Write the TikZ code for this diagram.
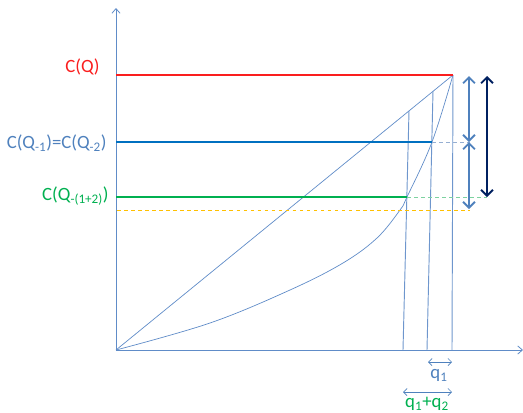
\documentclass[tikz,border=0pt]{standalone}
\usepackage{fontspec}
\setmainfont{Carlito}
\usetikzlibrary{arrows.meta}

\definecolor{axisblue}{RGB}{96,140,200}
\definecolor{labelblue}{RGB}{79,129,189}
\definecolor{lineblue}{RGB}{0,112,192}
\definecolor{costred}{RGB}{250,30,30}
\definecolor{costgreen}{RGB}{0,176,80}
\definecolor{navy}{RGB}{0,32,96}
\definecolor{gold}{RGB}{255,192,0}
\definecolor{mint}{RGB}{125,210,160}
\definecolor{paleblue}{RGB}{150,175,210}
\definecolor{stemblue}{RGB}{110,150,205}

\tikzset{
  axis/.style={draw=axisblue, line width=0.7pt, -{Straight Barb[length=4pt,width=7pt]}},
  costline/.style={line width=1.6pt},
  thinline/.style={draw=axisblue, line width=0.6pt},
  stemline/.style={draw=stemblue, line width=0.8pt},
  guide/.style={dashed, line width=0.8pt},
  span/.style={line width=1.6pt, {Straight Barb[length=5pt,width=10pt]}-{Straight Barb[length=5pt,width=10pt]}},
  qspan/.style={draw=labelblue, line width=0.6pt, {Straight Barb[length=3pt,width=6pt]}-{Straight Barb[length=3pt,width=6pt]}},
  lbl/.style={font=\fontsize{16}{18}\selectfont, inner sep=1pt}
}

\begin{document}
\begin{tikzpicture}[x=0.03cm, y=-0.03cm]
        \useasboundingbox (0,0) rectangle (523,413);

        % ==== DEFINITIONS ====
        \def\yQ{75}    % level C(Q)
        \def\yQa{142}  % level C(Q-1)=C(Q-2)
        \def\yQb{197}  % level C(Q-(1+2))
        \def\yQc{210}  % dashed yellow level

        % ==== POINTS ====
        \coordinate (O) at (116,350);
        \coordinate (T) at (453,\yQ);
        \coordinate (A) at (432,\yQa);
        \coordinate (B) at (407,\yQb);
        \coordinate (Xend) at (523,350);
        \coordinate (Yend) at (116,8);

        % ==== AXES ====
        \draw[axis] (O) -- (Xend);
        \draw[axis] (O) -- (Yend);

        % ==== DIAGONAL AND CURVE ====
        \draw[thinline] (O) -- (T);
        \draw[thinline] plot[smooth, tension=0.6] coordinates {(116,350) (210,323) (290,290) (343,263) (377,238) (400,210) (407,197) (432,142) (453,75)};

        % ==== STEMS DOWN TO THE X AXIS ====
        \coordinate (S1) at (452,350);
        \coordinate (S2t) at (433,91);
        \coordinate (S2) at (427,350);
        \coordinate (S3t) at (409,111);
        \coordinate (S3) at (403,350);
        \draw[stemline] (T) -- (S1);
        \draw[stemline] (S2t) -- (S2);
        \draw[stemline] (S3t) -- (S3);

        % ==== COST LEVELS ====
        \draw[costline, costred] (116,\yQ) -- (T);
        \draw[costline, lineblue] (116,\yQa) -- (A);
        \draw[costline, costgreen] (116,\yQb) -- (B);

        % ==== DASHED GUIDES ====
        \draw[guide, gold] (117,\yQc) -- (470,\yQc);
        \draw[guide, paleblue] (A) -- (470,\yQa);
        \draw[guide, mint] (B) -- (487,\yQb);

        % ==== LABELS ====
        \node[lbl, costred, anchor=east] (lQ) at (101,67) {C(Q)};
        \node[lbl, labelblue, anchor=east] (lQa) at (108,143) {C(Q\textsubscript{-1})=C(Q\textsubscript{-2})};
        \node[lbl, costgreen, anchor=east] (lQb) at (110,196) {C(Q\textsubscript{-(1+2)})};

        % ==== SPANS ON THE RIGHT ====
        \coordinate (R1) at (469,76);
        \coordinate (R2) at (469,142);
        \coordinate (R3) at (469,209);
        \coordinate (N1) at (487,76);
        \coordinate (N2) at (487,197);
        \draw[span, labelblue] (R1) -- (R2);
        \draw[span, labelblue] (R2) -- (R3);
        \draw[span, navy] (N1) -- (N2);

        % ==== q1 AND q1+q2 ====
        \coordinate (P1) at (428,362);
        \coordinate (P2) at (452,362);
        \coordinate (P3) at (403,392);
        \coordinate (P4) at (452,392);
        \draw[qspan] (P1) -- (P2);
        \draw[qspan] (P3) -- (P4);
        \node[lbl, labelblue] (q1) at (439,375) {q\textsubscript{1}};
        \node[lbl, costgreen] (q12) at (427,404) {q\textsubscript{1}+q\textsubscript{2}};
    \end{tikzpicture}
\end{document}
